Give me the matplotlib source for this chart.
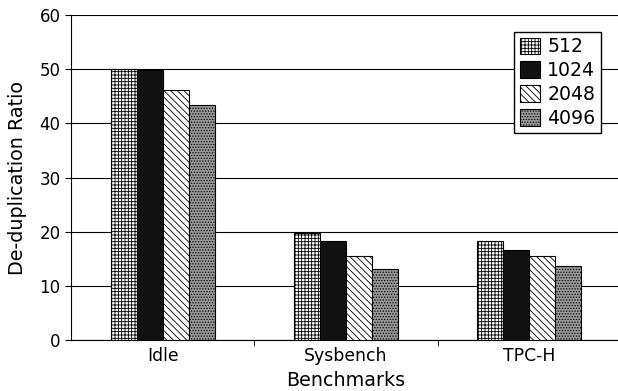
import matplotlib.pyplot as plt
import numpy as np

plt.rcParams['hatch.linewidth'] = 0.6

benchmarks = ['Idle', 'Sysbench', 'TPC-H']
sizes = ['512', '1024', '2048', '4096']
ratios = {
    '512': [50.0, 19.8, 18.3],
    '1024': [49.8, 18.2, 16.6],
    '2048': [46.2, 15.6, 15.6],
    '4096': [43.4, 13.2, 13.6],
}

styles = {
    '512': dict(facecolor='white', hatch='+++++'),
    '1024': dict(facecolor='#111111', hatch=''),
    '2048': dict(facecolor='white', hatch='\\' * 5),
    '4096': dict(facecolor='#9a9a9a', hatch='......'),
}

fig = plt.figure(figsize=(6.18, 3.91), dpi=100)
ax = fig.add_axes([0.115, 0.13, 0.89, 0.832])

x = np.arange(len(benchmarks))
width = 0.142
for i, s in enumerate(sizes):
    ax.bar(x + (i - 1.5) * width, ratios[s], width, label=s,
           edgecolor='black', linewidth=0.8, zorder=3, **styles[s])

ax.set_xlim(-0.5, 2.5)
ax.set_ylim(0, 60)
ax.set_yticks(range(0, 61, 10))
ax.yaxis.grid(True, color='black', linewidth=0.8, zorder=0)
ax.set_axisbelow(True)

ax.set_xticks(x)
ax.set_xticklabels(benchmarks, fontsize=12.4)
ax.tick_params(axis='x', length=0, pad=5)
ax.set_xticks([0.5, 1.5], minor=True)
ax.tick_params(axis='x', which='minor', length=4, direction='out')
ax.tick_params(axis='y', labelsize=12, length=4)

for sp in ['top', 'right']:
    ax.spines[sp].set_visible(False)

ax.set_xlabel('Benchmarks', fontsize=13.8, labelpad=4)
ax.set_ylabel('De-duplication Ratio', fontsize=13.8, labelpad=9)

ax.legend(loc='upper right', bbox_to_anchor=(0.964, 0.948), fontsize=13.6,
          frameon=True, fancybox=False, edgecolor='black', framealpha=1,
          handlelength=1.05, handleheight=1.0, handletextpad=0.4,
          labelspacing=0.25, borderpad=0.3, borderaxespad=0)

fig.savefig('out.png', dpi=100)
